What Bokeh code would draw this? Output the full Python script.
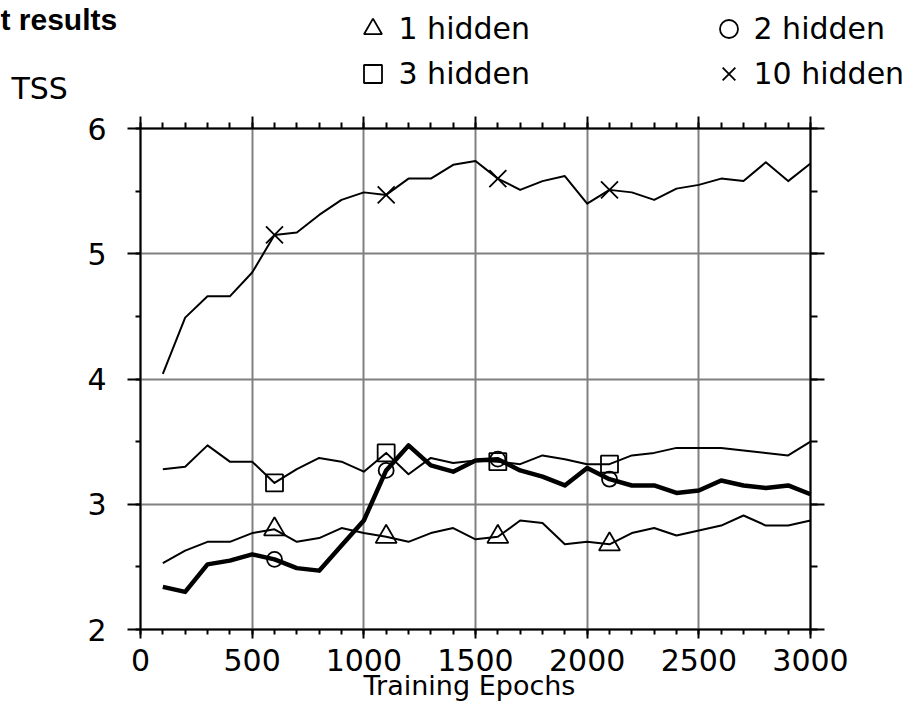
from bokeh.plotting import figure
from bokeh.models import (LinearAxis, Range1d, Label, Legend, LegendItem,
                          SingleIntervalTicker, CustomJSTickFormatter)
from bokeh.embed import file_html
from bokeh.resources import INLINE

# ---------------- data ----------------
epochs = [100, 200, 300, 400, 500, 600, 700, 800, 900, 1000,
          1100, 1200, 1300, 1400, 1500, 1600, 1700, 1800, 1900, 2000,
          2100, 2200, 2300, 2400, 2500, 2600, 2700, 2800, 2900, 3000]

hidden_1 = [2.53, 2.63, 2.70, 2.70, 2.77, 2.80, 2.70, 2.73, 2.81, 2.77,
            2.74, 2.70, 2.77, 2.81, 2.72, 2.74, 2.87, 2.85, 2.68, 2.70,
            2.68, 2.77, 2.81, 2.75, 2.79, 2.83, 2.91, 2.83, 2.83, 2.87]

hidden_2 = [2.34, 2.30, 2.52, 2.55, 2.60, 2.56, 2.49, 2.47, 2.67, 2.87,
            3.27, 3.47, 3.31, 3.26, 3.35, 3.36, 3.27, 3.22, 3.15, 3.29,
            3.20, 3.15, 3.15, 3.09, 3.11, 3.19, 3.15, 3.13, 3.15, 3.08]

hidden_3 = [3.28, 3.30, 3.47, 3.34, 3.34, 3.17, 3.28, 3.37, 3.34, 3.26,
            3.41, 3.24, 3.37, 3.33, 3.35, 3.34, 3.32, 3.39, 3.36, 3.32,
            3.32, 3.39, 3.41, 3.45, 3.45, 3.45, 3.43, 3.41, 3.39, 3.50]

hidden_10 = [4.04, 4.49, 4.66, 4.66, 4.85, 5.15, 5.17, 5.31, 5.43, 5.49,
             5.47, 5.60, 5.60, 5.71, 5.74, 5.60, 5.51, 5.58, 5.62, 5.40,
             5.51, 5.49, 5.43, 5.52, 5.55, 5.60, 5.58, 5.73, 5.58, 5.72]

marker_epochs = [600, 1100, 1600, 2100]

x_axis_bounds = (0, 3000)
y_axis_bounds = (2, 6)
x_grid_lines = [0, 500, 1000, 1500, 2000, 2500, 3000]
y_grid_lines = [2, 3, 4, 5, 6]

series_labels = ["1 hidden", "2 hidden", "3 hidden", "10 hidden"]
title_text = "t results"
y_label_text = "TSS"
x_label_text = "Training Epochs"

# ---------------- figure ----------------
FONT = "DejaVu Sans"
FS = "30px"
W, H = 906, 702
FL, FR, FT, FB = 140, 810, 128, 629          # data box edges on the canvas
PX_X = (FR - FL) / 3000.0
PX_Y = (FB - FT) / 4.0
x0 = 0 - FL / PX_X
x1 = 3000 + (W - FR) / PX_X
y1 = 6 + FT / PX_Y
y0 = 2 - (H - FB) / PX_Y


def cx(px):   # canvas x -> data x (for text anchors only)
    return (px - FL) / PX_X


def cy(py):   # canvas y -> data y
    return 6 + (FT - py) / PX_Y


p = figure(width=W, height=H,
           x_range=Range1d(x0, x1), y_range=Range1d(y0, y1),
           output_backend="svg", toolbar_location=None,
           min_border_left=0, min_border_right=0,
           min_border_top=0, min_border_bottom=0)
p.outline_line_color = None
p.background_fill_color = "white"
p.border_fill_color = "white"

x_ticker = SingleIntervalTicker(interval=500, num_minor_ticks=5)
y_ticker = SingleIntervalTicker(interval=1, num_minor_ticks=2)

ax_bottom = p.xaxis[0]
ax_left = p.yaxis[0]
ax_bottom.ticker = x_ticker
ax_left.ticker = y_ticker

ax_top = LinearAxis(ticker=x_ticker, formatter=CustomJSTickFormatter(code="return ''"))
ax_right = LinearAxis(ticker=y_ticker, formatter=CustomJSTickFormatter(code="return ''"))
p.add_layout(ax_top, "above")
p.add_layout(ax_right, "right")

for ax in [ax_bottom, ax_left, ax_top, ax_right]:
    ax.axis_line_color = "black"
    ax.axis_line_width = 2
    ax.major_tick_line_color = "black"
    ax.major_tick_line_width = 2
    ax.minor_tick_line_color = "black"
    ax.minor_tick_line_width = 2
    ax.major_tick_in = 0
    ax.minor_tick_in = 0
    ax.major_label_text_font = FONT
    ax.major_label_text_font_size = FS
    ax.major_label_text_color = "black"

for ax in [ax_bottom, ax_top]:
    ax.bounds = x_axis_bounds
for ax in [ax_left, ax_right]:
    ax.bounds = y_axis_bounds

ax_bottom.fixed_location = y_axis_bounds[0]
ax_top.fixed_location = y_axis_bounds[1]
ax_left.fixed_location = x_axis_bounds[0]
ax_right.fixed_location = x_axis_bounds[1]

ax_bottom.major_tick_out = 9
ax_bottom.minor_tick_out = 5
ax_bottom.major_label_standoff = 10
ax_top.major_tick_out = 12
ax_top.minor_tick_out = 6
ax_left.major_tick_out = 13
ax_left.minor_tick_out = 5
ax_left.major_label_standoff = 21
ax_right.major_tick_out = 14
ax_right.minor_tick_out = 7

# grid lines, limited to the data box
grid_done = False
try:
    p.xgrid.ticker = x_ticker
    p.ygrid.ticker = y_ticker
    p.xgrid.bounds = x_axis_bounds
    p.ygrid.bounds = y_axis_bounds
    p.xgrid.cross_bounds = y_axis_bounds
    p.ygrid.cross_bounds = x_axis_bounds
    for g in [p.xgrid, p.ygrid]:
        g.grid_line_color = "#808080"
        g.grid_line_width = 2
    grid_done = True
except AttributeError:
    grid_done = False
if not grid_done:
    for g in [p.xgrid, p.ygrid]:
        g.visible = False
    p.segment(x0=x_grid_lines, y0=[y_axis_bounds[0]] * len(x_grid_lines),
              x1=x_grid_lines, y1=[y_axis_bounds[1]] * len(x_grid_lines),
              line_color="#808080", line_width=2, level="underlay")
    p.segment(x0=[x_axis_bounds[0]] * len(y_grid_lines), y0=y_grid_lines,
              x1=[x_axis_bounds[1]] * len(y_grid_lines), y1=y_grid_lines,
              line_color="#808080", line_width=2, level="underlay")

# ---------------- series ----------------
specs = [
    (hidden_1, "triangle", 21, 2.0),
    (hidden_2, "circle", 15, 4.5),
    (hidden_3, "square", 17, 2.0),
    (hidden_10, "x", 24, 2.0),
]
marker_renderers = []
for vals, marker, size, lw in specs:
    p.line(epochs, vals, line_color="black", line_width=lw, line_join="round")
    my = [vals[epochs.index(e)] for e in marker_epochs]
    r = p.scatter(marker_epochs, my, marker=marker, size=size,
                  line_color="black", line_width=1.8, fill_alpha=0)
    marker_renderers.append(r)


def make_legend(items, loc, standoff):
    return Legend(items=items, location=loc, orientation="vertical",
                  glyph_width=45, glyph_height=45, spacing=0, padding=0, margin=0,
                  label_standoff=standoff, border_line_color=None,
                  background_fill_alpha=0, label_text_font=FONT,
                  label_text_font_size=FS, label_text_color="black")


leg_left = make_legend([LegendItem(label=series_labels[0], renderers=[marker_renderers[0]]),
                        LegendItem(label=series_labels[2], renderers=[marker_renderers[2]])],
                       (349.5, H - 95.5), 4)
leg_right = make_legend([LegendItem(label=series_labels[1], renderers=[marker_renderers[1]]),
                         LegendItem(label=series_labels[3], renderers=[marker_renderers[3]])],
                        (705.5, H - 95.5), 3)
p.add_layout(leg_left, "center")
p.add_layout(leg_right, "center")

# ---------------- texts ----------------
p.add_layout(Label(x=cx(0), y=cy(19), text=title_text, text_font="Liberation Sans",
                   text_font_style="bold", text_font_size="30px",
                   text_align="left", text_baseline="middle", text_color="black"))
p.add_layout(Label(x=cx(11), y=cy(88), text=y_label_text, text_font=FONT,
                   text_font_size=FS, text_align="left", text_baseline="middle",
                   text_color="black"))
p.add_layout(Label(x=cx(469), y=cy(685), text=x_label_text, text_font=FONT,
                   text_font_size="27px", text_align="center", text_baseline="middle",
                   text_color="black"))

open("out.html", "w").write(file_html(p, INLINE))
